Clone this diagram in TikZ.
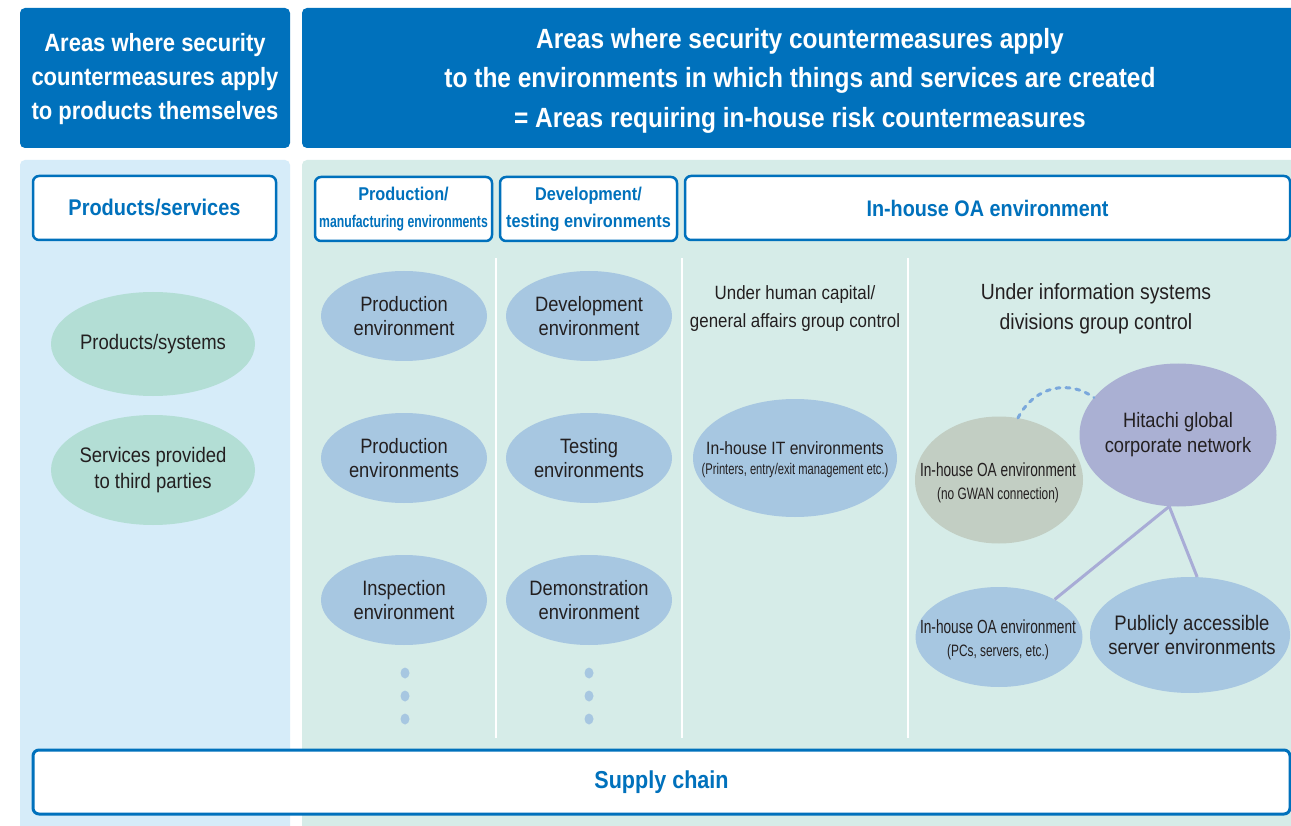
\documentclass[tikz,border=0pt]{standalone}
\usepackage{fontspec}
\setmainfont{Liberation Sans}[FakeStretch=0.88]
\newfontfamily\xcond{Liberation Sans}[FakeStretch=0.72]
\usetikzlibrary{shapes.geometric}
\definecolor{hblue}{RGB}{0,113,188}
\definecolor{lpanel}{RGB}{214,236,249}
\definecolor{rpanel}{RGB}{214,236,232}
\definecolor{eblue}{RGB}{167,199,225}
\definecolor{egreen}{RGB}{179,222,213}
\definecolor{egrey}{RGB}{194,206,195}
\definecolor{elav}{RGB}{170,176,211}
\definecolor{llav}{RGB}{168,172,214}
\definecolor{dblue}{RGB}{122,168,220}
\definecolor{dtext}{RGB}{35,31,32}
\newcommand{\fsz}[2]{\fontsize{#1}{#2}\selectfont}
\begin{document}
\begin{tikzpicture}[x=1pt,y=-1pt,
  hbox/.style={fill=hblue,rounded corners=5pt,inner sep=0pt,text=white,align=center},
  wbox/.style={fill=white,draw=hblue,line width=2.5pt,rounded corners=6pt,inner sep=0pt,text=hblue,align=center},
  ell/.style={ellipse,inner sep=0pt},
  lbl/.style={text=dtext,align=center,inner sep=0pt}]
\clip (0,0) rectangle (1291,826);
\useasboundingbox (0,0) rectangle (1291,826);
\fill[white] (0,0) rectangle (1291,826);
% headers
\node[hbox,minimum width=270,minimum height=140] (lh) at (155,78) {};
\node[text=white,align=center,inner sep=0pt,font={\bfseries\fsz{25}{34}}] (lht) at (155,79.5)
  {Areas where security\\countermeasures apply\\to products themselves};
\node[hbox,minimum width=996,minimum height=140] (rh) at (800,78) {};
\node[text=white,align=center,inner sep=0pt,font={\bfseries\fsz{27.8}{39.5}}] (rht) at (800,80.5)
  {Areas where security countermeasures apply\\to the environments in which things and services are created\\= Areas requiring in-house risk countermeasures};
% panels
\fill[lpanel,rounded corners=5pt] (20,160) rectangle (290,850);
\fill[rpanel,rounded corners=5pt] (302,160) rectangle (1298,850);
% separators
\draw[white,line width=2pt] (496,258) -- (496,738);
\draw[white,line width=2pt] (682,258) -- (682,738);
\draw[white,line width=2pt] (908,258) -- (908,738);
% column headers
\node[wbox,minimum width=243,minimum height=64,font={\bfseries\fsz{22.7}{26}}] (ps) at (154.5,208)
  {Products/services};
\node[wbox,minimum width=177,minimum height=64,font={\bfseries\fsz{18.5}{27}}] (pm) at (403.5,209)
  {Production/\\{\xcond\fsz{17}{20}manufacturing environments}};
\node[wbox,minimum width=177,minimum height=64,font={\bfseries\fsz{18.5}{27}}] (dt) at (588.5,209)
  {Development/\\testing environments};
\node[wbox,minimum width=605,minimum height=64,font={\bfseries\fsz{22.5}{26}}] (oa) at (987.5,208)
  {In-house OA environment};
% left column ellipses
\node[ell,fill=egreen,minimum width=204,minimum height=104] (psys) at (153,344) {};
\node[lbl,font=\fsz{21}{26}] (psyst) at (psys) {Products/systems};
\node[ell,fill=egreen,minimum width=204,minimum height=110] (serv) at (153,470) {};
\node[lbl,font=\fsz{21}{26}] (servt) at (serv) {Services provided\\to third parties};
% production column
\node[ell,fill=eblue,minimum width=166,minimum height=90] (pe1) at (404,316) {};
\node[lbl,font=\fsz{20.8}{24}] (pe1t) at (pe1) {Production\\environment};
\node[ell,fill=eblue,minimum width=166,minimum height=90] (pe2) at (404,458) {};
\node[lbl,font=\fsz{20.8}{24}] (pe2t) at (pe2) {Production\\environments};
\node[ell,fill=eblue,minimum width=166,minimum height=90] (ie) at (404,600) {};
\node[lbl,font=\fsz{20.8}{24}] (iet) at (ie) {Inspection\\environment};
% development column
\node[ell,fill=eblue,minimum width=166,minimum height=90] (de) at (589,316) {};
\node[lbl,font=\fsz{20.8}{24}] (det) at (de) {Development\\environment};
\node[ell,fill=eblue,minimum width=166,minimum height=90] (te) at (589,458) {};
\node[lbl,font=\fsz{20.8}{24}] (tet) at (te) {Testing\\environments};
\node[ell,fill=eblue,minimum width=166,minimum height=90] (dm) at (589,600) {};
\node[lbl,font=\fsz{20.8}{24}] (dmt) at (dm) {Demonstration\\environment};
% dots
\foreach \yy in {673,696,719}{
  \fill[eblue] (405,\yy) ellipse (4.5 and 5.5);
  \fill[eblue] (589,\yy) ellipse (4.5 and 5.5);
}
% human capital column
\node[lbl,font=\fsz{19.2}{28}] (hc) at (795,309)
  {Under human capital/\\general affairs group control};
\node[ell,fill=eblue,minimum width=204,minimum height=118] (it) at (795,458) {};
\node[lbl,font=\fsz{17.8}{20}] (itt) at (795,460)
  {In-house IT environments\\{\xcond\fsz{15.5}{20}(Printers, entry/exit management etc.)}};
% information systems column
\node[lbl,font=\fsz{22}{29.5}] (is) at (1096,309)
  {Under information systems\\divisions group control};
\node[ell,fill=egrey,minimum width=168,minimum height=127] (ng) at (999,480) {};
\node[lbl,font={\xcond\fsz{19}{23}}] (ngt) at (998,483)
  {In-house OA environment\\{\xcond\fsz{16.5}{23}(no GWAN connection)}};
\node[ell,fill=elav,minimum width=197,minimum height=143] (hg) at (1178,435) {};
\node[lbl,font=\fsz{20.8}{25}] (hgt) at (hg) {Hitachi global\\corporate network};
\node[ell,fill=eblue,minimum width=167,minimum height=100] (pcs) at (999,637) {};
\node[lbl,font={\xcond\fsz{19}{23}}] (pcst) at (998,640)
  {In-house OA environment\\{\xcond\fsz{16.5}{23}(PCs, servers, etc.)}};
\node[ell,fill=eblue,minimum width=200,minimum height=116] (pub) at (1190,635) {};
\node[lbl,font=\fsz{21}{24}] (pubt) at (1192,635) {Publicly accessible\\server environments};
% connectors
\draw[llav,line width=3pt] (hg.263) -- (pcs.34);
\draw[llav,line width=3pt] (hg.263) -- (pub.83);
\draw[dblue,line width=3pt,dash pattern=on 4pt off 6pt,line cap=round]
  (ng.73) .. controls (1035,385) and (1070,380) .. (hg.156);
% supply chain
\node[wbox,line width=3pt,minimum width=1257,minimum height=64,font={\bfseries\fsz{24.5}{28}}] (sc) at (661.5,782)
  {Supply chain};
\end{tikzpicture}
\end{document}
